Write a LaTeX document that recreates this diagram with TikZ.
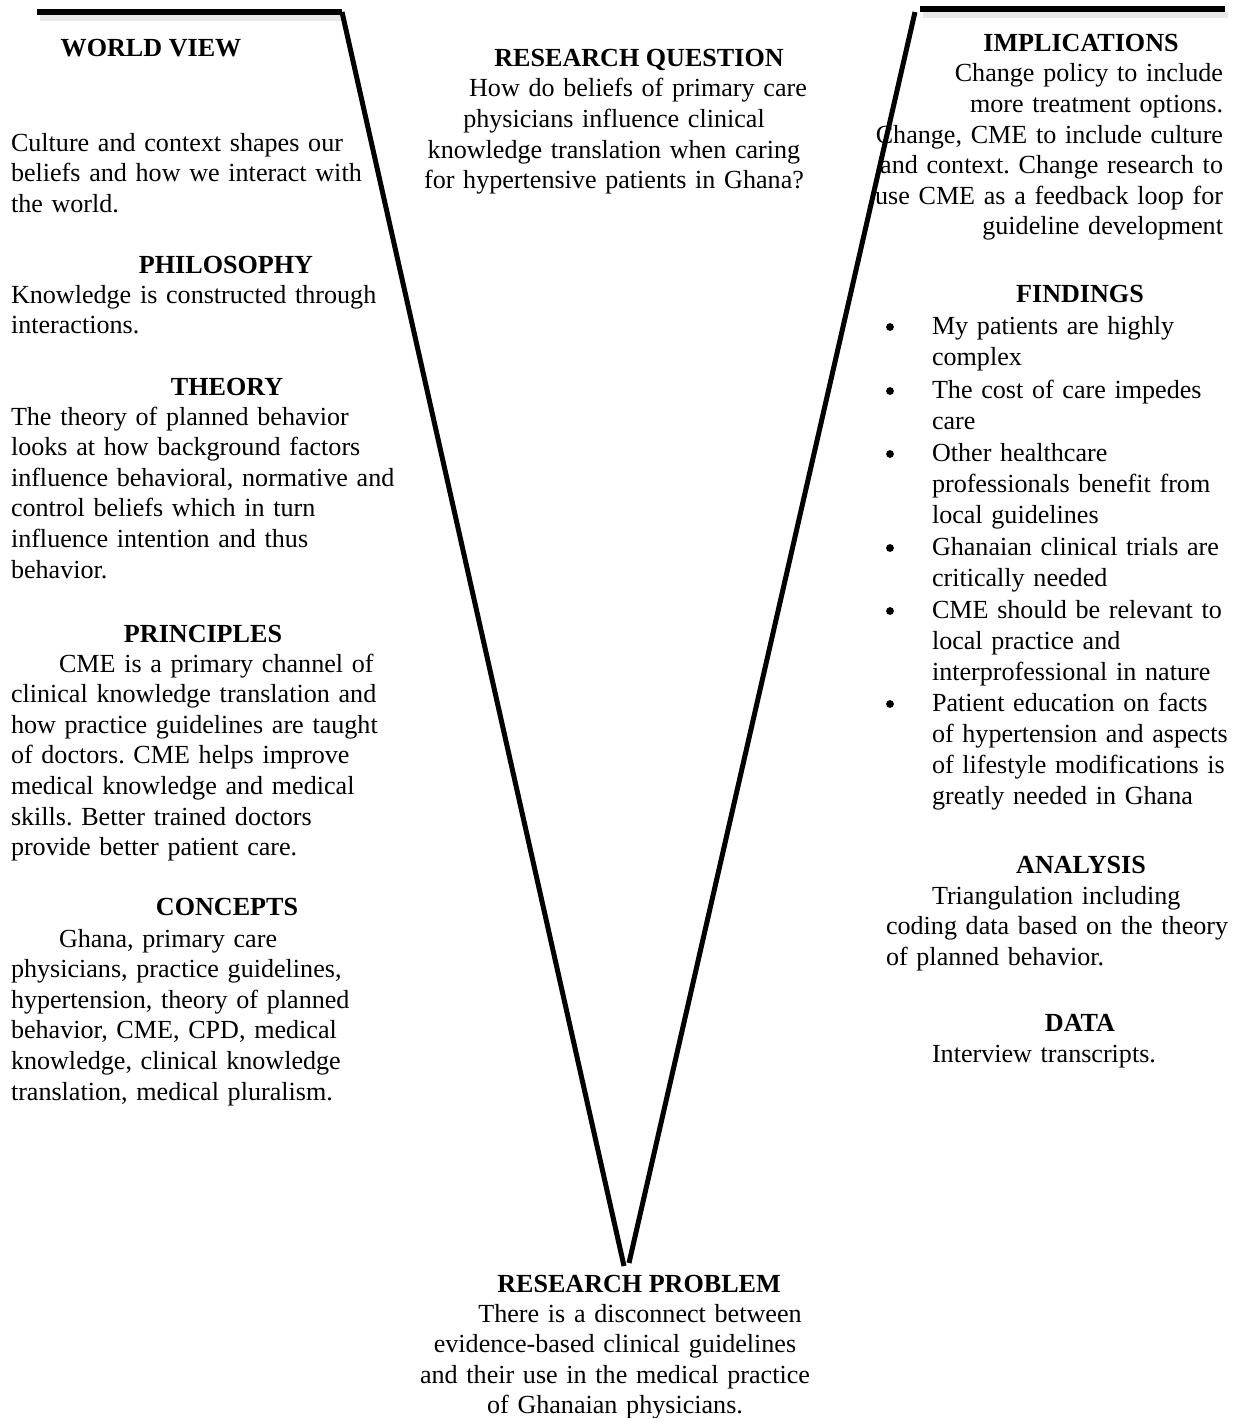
\documentclass[tikz,border=0pt]{standalone}
\usepackage{fontspec}
\setmainfont{Liberation Serif}
\frenchspacing
\begin{document}
\begin{tikzpicture}[x=0.5pt,y=-0.5pt,
  txt/.style={font=\fontsize{13.05}{15.3}\selectfont, inner sep=0pt, outer sep=0pt},
  head/.style={txt, font=\fontsize{13.05}{15.3}\selectfont\bfseries, anchor=base},
  lbody/.style={txt, anchor=base west, text width=215pt, align=left},
  cbody/.style={txt, anchor=base, text width=215pt, align=center},
  rbody/.style={txt, anchor=base east, text width=190pt, align=right},
  finditem/.style={txt, font=\fontsize{13.05}{15.65}\selectfont, anchor=base west, text width=160pt, align=left},
  bul/.style={circle, fill=black, inner sep=0pt, minimum size=3.9pt},
  vline/.style={line width=2.5pt},
  hline/.style={line width=2.8pt},
  hshadow/.style={line width=3pt, black!9},
]
\useasboundingbox (0,0) rectangle (1240,1418);

% ---------- left column: world view, philosophy, theory, principles, concepts
\node[head]  (wvh) at (151,57)  {WORLD VIEW};
\node[lbody] (wvt) at (11,151)  {Culture and context shapes our\\beliefs and how we interact with\\the world.};
\node[head]  (phh) at (226,273) {PHILOSOPHY};
\node[lbody] (pht) at (11,303)  {Knowledge is constructed through\\interactions.};
\node[head]  (thh) at (227,395) {THEORY};
\node[lbody] (tht) at (11,425)  {The theory of planned behavior\\looks at how background factors\\influence behavioral, normative and\\control beliefs which in turn\\influence intention and thus\\behavior.};
\node[head]  (prh) at (203,642) {PRINCIPLES};
\node[lbody] (prt) at (11,672)  {\hspace*{24pt}CME is a primary channel of\\clinical knowledge translation and\\how practice guidelines are taught\\of doctors. CME helps improve\\medical knowledge and medical\\skills. Better trained doctors\\provide better patient care.};
\node[head]  (coh) at (227,915) {CONCEPTS};
\node[lbody] (cot) at (11,947)  {\hspace*{24pt}Ghana, primary care\\physicians, practice guidelines,\\hypertension, theory of planned\\behavior, CME, CPD, medical\\knowledge, clinical knowledge\\translation, medical pluralism.};

% ---------- centre: research question and research problem
\node[head]  (rqh) at (639,67)  {RESEARCH QUESTION};
\node[cbody] (rqt) at (614,97)  {\hspace*{24pt}How do beliefs of primary care\\physicians influence clinical\\knowledge translation when caring\\for hypertensive patients in Ghana?};
\node[head]  (rph) at (639,1292) {RESEARCH PROBLEM};
\node[cbody] (rpt) at (615,1322) {\hspace*{25pt}There is a disconnect between\\evidence-based clinical guidelines\\and their use in the medical practice\\of Ghanaian physicians.};

% ---------- right column: implications, findings, analysis, data
\node[head]  (imh) at (1081,52) {IMPLICATIONS};
\node[rbody] (imt) at (1223,82) {Change policy to include\\more treatment options.\\Change, CME to include culture\\and context. Change research to\\use CME as a feedback loop for\\guideline development};
\node[head]  (fih) at (1080,302) {FINDINGS};
\node[bul] (b1) at (890,327) {};
\node[finditem] (f1) at (932,334) {My patients are highly\\complex};
\node[bul] (b2) at (890,391) {};
\node[finditem] (f2) at (932,398) {The cost of care impedes\\care};
\node[bul] (b3) at (890,454) {};
\node[finditem] (f3) at (932,461) {Other healthcare\\professionals benefit from\\local guidelines};
\node[bul] (b4) at (890,548) {};
\node[finditem] (f4) at (932,555) {Ghanaian clinical trials are\\critically needed};
\node[bul] (b5) at (890,611) {};
\node[finditem] (f5) at (932,618) {CME should be relevant to\\local practice and\\interprofessional in nature};
\node[bul] (b6) at (890,704) {};
\node[finditem] (f6) at (932,711) {Patient education on facts\\of hypertension and aspects\\of lifestyle modifications is\\greatly needed in Ghana};
\node[head]  (anh) at (1081,873) {ANALYSIS};
\node[lbody] (ant) at (886,904) {\hspace*{23pt}Triangulation including\\coding data based on the theory\\of planned behavior.};
\node[head]  (dah) at (1080,1031) {DATA};
\node[lbody] (dat) at (886,1062) {\hspace*{23pt}Interview transcripts.};

% ---------- the V frame
\coordinate (tl0) at (37,12);
\coordinate (tl1) at (342,12);
\coordinate (vl)  at (624,1266);
\coordinate (tr0) at (920,9);
\coordinate (tr1) at (1225,9);
\coordinate (trv) at (915,12);
\coordinate (vr)  at (629,1263);

\draw[hshadow] ([shift={(3,6)}]tl0) -- ([shift={(3,6)}]tl1);
\draw[hshadow] ([shift={(3,6)}]tr0) -- ([shift={(3,6)}]tr1);
\draw[hline] (tl0) -- (tl1);
\draw[hline] (tr0) -- (tr1);
\draw[vline] (tl1) -- (vl);
\draw[vline] (trv) -- (vr);
\end{tikzpicture}
\end{document}
